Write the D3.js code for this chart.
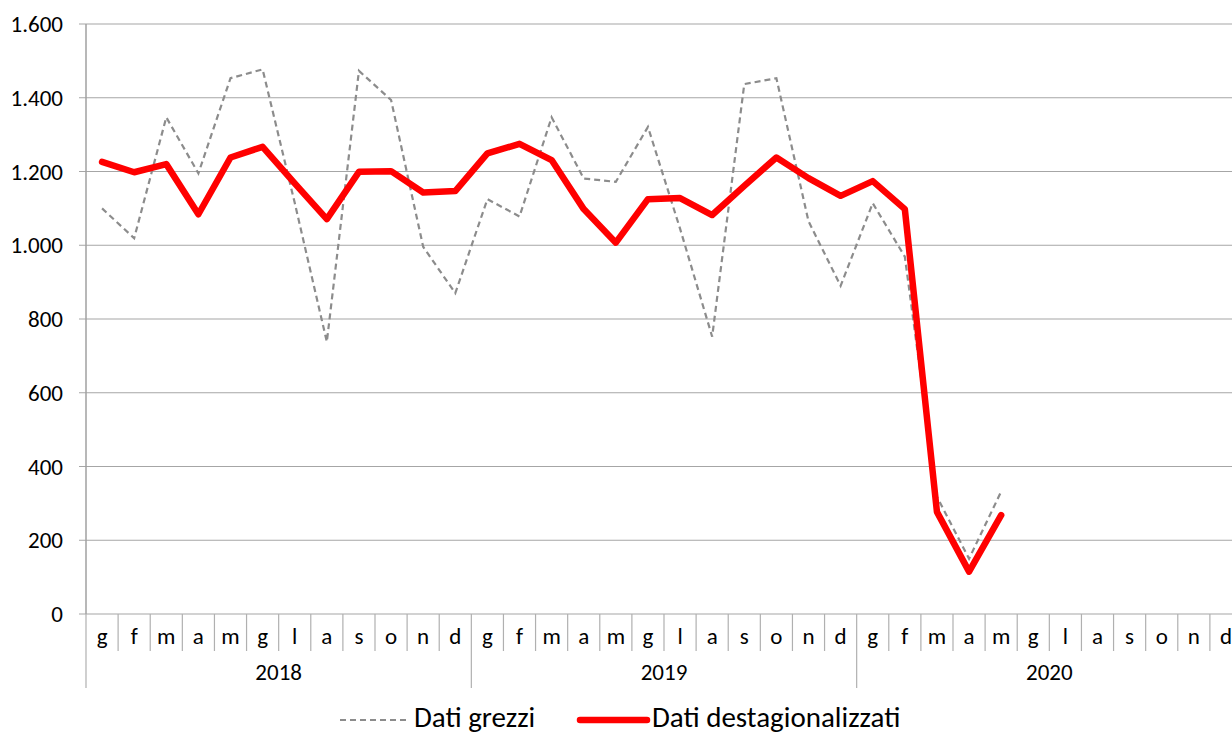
<!DOCTYPE html>
<html>
<head>
<meta charset="utf-8">
<script src="https://cdn.jsdelivr.net/npm/d3@7"></script>
<style>
  body{margin:0;background:#fff}
  svg{display:block;font-family:Carlito,Calibri,Lato,"Open Sans",sans-serif}
</style>
</head>
<body>
<svg id="chart" width="1232" height="734"></svg>
<script>
const years=['2018','2019','2020']
const months=['g','f','m','a','m','g','l','a','s','o','n','d']
const yTicks=[0,200,400,600,800,1000,1200,1400,1600]
// dati grezzi
const raw=[1100,1019,1347,1195,1453,1477,1115,738,1473,1394,996,870,
  1125,1078,1347,1181,1172,1321,1045,752,1437,1453,1065,890,
  1114,969,318,150,332]
// dati destagionalizzati
const sa=[1226,1198,1220,1084,1238,1267,1168,1071,1199,1201,1143,1147,
  1249,1275,1231,1098,1007,1125,1128,1082,1161,1238,1182,1134,
  1174,1098,277,115,268]

const svg=d3.select('#chart')
const plotL=86, plotR=1242, plotT=24, plotB=614

const cats=[]
years.forEach(yr=>months.forEach((m,i)=>cats.push({key:yr+'-'+i,m:m,y:yr})))

const x=d3.scaleBand().domain(cats.map(d=>d.key)).range([plotL,plotR])
const y=d3.scaleLinear().domain([0,1600]).range([plotB,plotT])
const fmt=d3.formatLocale({decimal:',',thousands:'.',grouping:[3],currency:['€','']}).format(',d')

// grid
svg.append('g')
  .selectAll('line')
  .data(yTicks)
  .enter()
  .append('line')
  .attr('x1',plotL-7).attr('x2',1232)
  .attr('y1',d=>y(d)).attr('y2',d=>y(d))
  .attr('stroke','#a6a6a6').attr('stroke-width',1.2)

// y axis
svg.append('line')
  .attr('x1',plotL).attr('x2',plotL).attr('y1',plotT).attr('y2',plotB)
  .attr('stroke','#a0a0a0').attr('stroke-width',1.5)

svg.append('g')
  .selectAll('text')
  .data(yTicks)
  .enter()
  .append('text')
  .attr('x',63)
  .attr('y',d=>y(d)+8)
  .attr('text-anchor','end')
  .attr('font-size',23)
  .attr('fill','#000')
  .text(d=>fmt(d))

// category axis
const ax=svg.append('g')
ax.selectAll('line.m')
  .data(cats)
  .enter()
  .append('line')
  .attr('class','m')
  .attr('x1',d=>x(d.key)).attr('x2',d=>x(d.key))
  .attr('y1',plotB).attr('y2',d=>d.key.endsWith('-0')?688:651)
  .attr('stroke','#b0b0b0').attr('stroke-width',1.2)

ax.selectAll('text.m')
  .data(cats)
  .enter()
  .append('text')
  .attr('class','m')
  .attr('x',d=>x(d.key)+x.bandwidth()/2)
  .attr('y',644)
  .attr('text-anchor','middle')
  .attr('font-size',23)
  .text(d=>d.m)

ax.selectAll('text.y')
  .data(years)
  .enter()
  .append('text')
  .attr('class','y')
  .attr('x',d=>(x(d+'-0')+x(d+'-11')+x.bandwidth())/2)
  .attr('y',680)
  .attr('text-anchor','middle')
  .attr('font-size',23)
  .text(d=>d)

// series
const line=d3.line()
  .x((d,i)=>x(cats[i].key)+x.bandwidth()/2)
  .y(d=>y(d))

svg.append('path')
  .datum(raw)
  .attr('d',line)
  .attr('fill','none')
  .attr('stroke','#8c8c8c')
  .attr('stroke-width',2.2)
  .attr('stroke-dasharray','6,4')

svg.append('path')
  .datum(sa)
  .attr('d',line)
  .attr('fill','none')
  .attr('stroke','#ff0000')
  .attr('stroke-width',6.5)
  .attr('stroke-linejoin','round')
  .attr('stroke-linecap','round')

// legend
const lg=svg.append('g')
lg.append('line')
  .attr('x1',340).attr('x2',410).attr('y1',720).attr('y2',720)
  .attr('stroke','#8c8c8c').attr('stroke-width',2.2).attr('stroke-dasharray','6,4')
lg.append('text').attr('x',414).attr('y',727).attr('font-size',29).text('Dati grezzi')
lg.append('line')
  .attr('x1',580).attr('x2',647).attr('y1',720).attr('y2',720)
  .attr('stroke','#ff0000').attr('stroke-width',6.5).attr('stroke-linecap','round')
lg.append('text').attr('x',652).attr('y',727).attr('font-size',29).text('Dati destagionalizzati')
</script>
</body>
</html>
